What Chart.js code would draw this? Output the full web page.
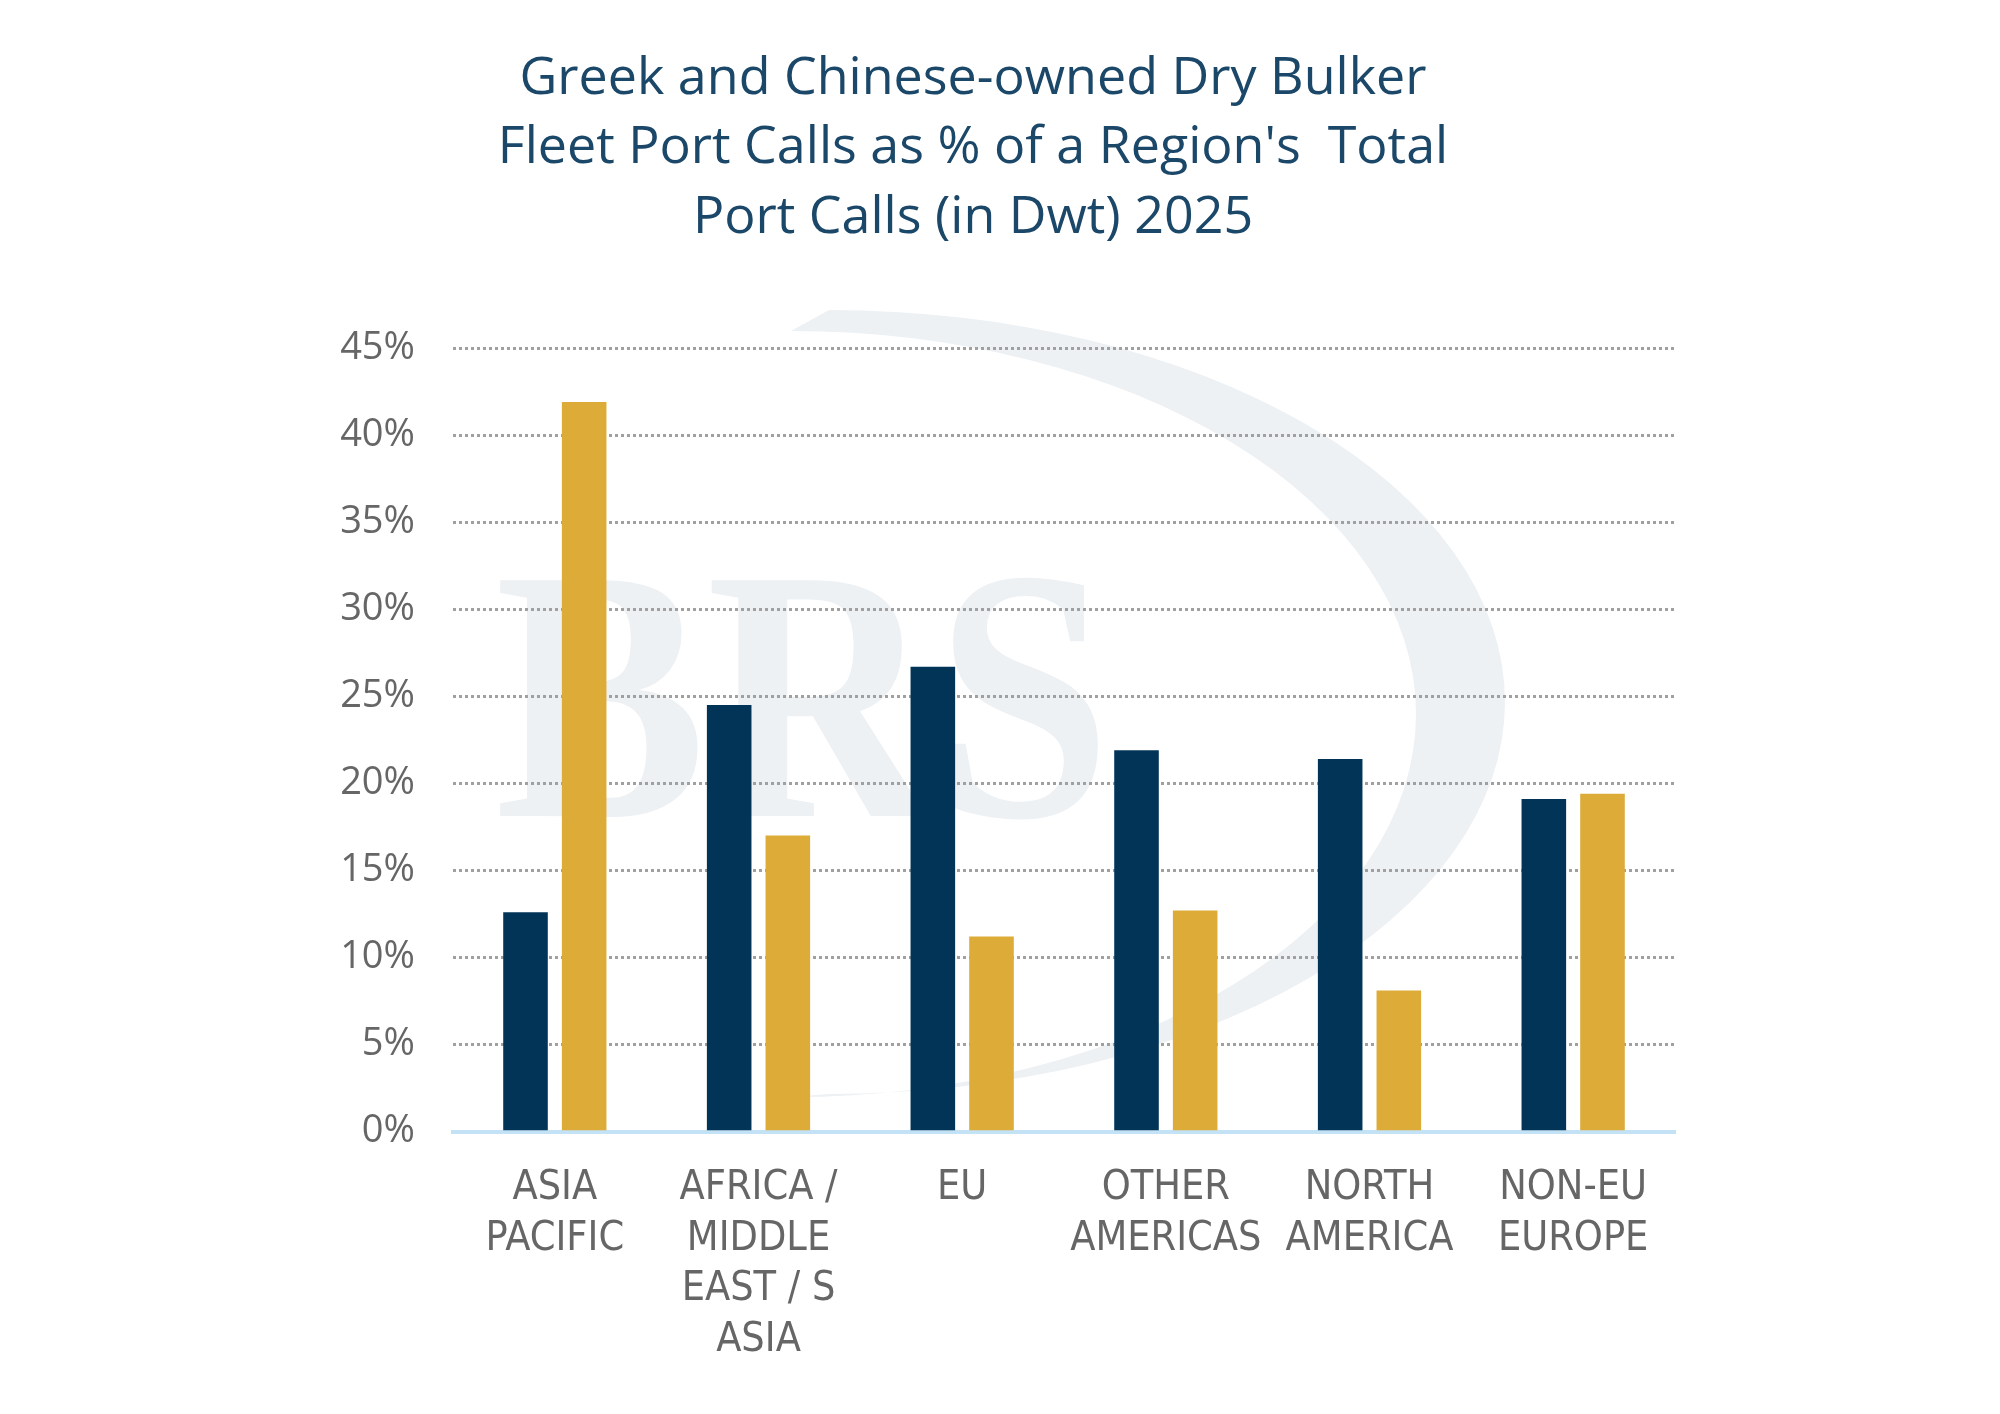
<!DOCTYPE html>
<html>
<head>
<meta charset="utf-8">
<script src="https://cdn.jsdelivr.net/npm/chart.js@4.4.1/dist/chart.umd.min.js"></script>
<style>
  html, body { margin: 0; padding: 0; background: #fff; }
  #wrap { width: 2000px; height: 1414px; }
</style>
</head>
<body>
<div id="wrap"><canvas id="portCalls"></canvas></div>
<script>
// regions (multi-line labels as drawn under the axis)
const regions = [
    ['ASIA', 'PACIFIC'],
    ['AFRICA /', 'MIDDLE', 'EAST / S', 'ASIA'],
    ['EU'],
    ['OTHER', 'AMERICAS'],
    ['NORTH', 'AMERICA'],
    ['NON-EU', 'EUROPE']
];
// % of region's total port calls (dwt), 2025
const greekShare = [12.6, 24.5, 26.7, 21.9, 21.4, 19.1];
const chineseShare = [41.9, 17.0, 11.2, 12.7, 8.1, 19.4];
const yMax = 45;
const yStep = 5;
const titleLines = [
    'Greek and Chinese-owned Dry Bulker',
    "Fleet Port Calls as % of a Region's  Total",
    'Port Calls (in Dwt) 2025'
];

// faint BRS logo behind the plot
const watermark = {
    id: 'watermark',
    beforeDraw(chart) {
        const { ctx } = chart;
        ctx.save();
        ctx.fillStyle = '#edf1f4';
        // swoosh
        ctx.beginPath();
        ctx.ellipse(829, 702, 676, 392, 0, -Math.PI / 2, Math.PI / 2, false);
        ctx.ellipse(791, 714, 625, 383, 0, Math.PI / 2, -Math.PI / 2, true);
        ctx.closePath();
        ctx.fill();
        // letters
        ctx.translate(495, 816);
        ctx.scale(0.88, 1);
        ctx.font = 'bold 360px "Liberation Serif", serif';
        ctx.textBaseline = 'alphabetic';
        ctx.fillText('BRS', 0, 0);
        ctx.restore();
    }
};

new Chart(document.getElementById('portCalls'), {
    type: 'bar',
    data: {
        labels: regions,
        datasets: [
            {
                label: 'Greek-owned',
                data: greekShare,
                backgroundColor: '#023457',
                borderWidth: 0,
                categoryPercentage: 0.576,
                barPercentage: 0.76
            },
            {
                label: 'Chinese-owned',
                data: chineseShare,
                backgroundColor: '#dcab38',
                borderWidth: 0,
                categoryPercentage: 0.576,
                barPercentage: 0.76
            }
        ]
    },
    options: {
        responsive: true,
        maintainAspectRatio: false,
        animation: false,
        layout: { padding: { left: 271, right: 325, top: 0, bottom: 25 } },
        plugins: {
            legend: { display: false },
            tooltip: { enabled: false },
            title: {
                display: true,
                text: titleLines,
                color: '#1b4769',
                font: { family: '"Open Sans", sans-serif', size: 52, weight: 'normal', lineHeight: 1.34 },
                padding: { top: 44, bottom: 95 }
            }
        },
        scales: {
            x: {
                grid: { display: false },
                border: { display: true, color: '#c4e2f5', width: 4 },
                ticks: {
                    color: '#666',
                    padding: 23,
                    maxRotation: 0,
                    autoSkip: false,
                    font: { family: '"Liberation Sans Narrow", "DejaVu Sans Condensed", sans-serif', size: 41, lineHeight: 1.24 }
                }
            },
            y: {
                min: 0,
                max: yMax,
                afterFit: (axis) => { axis.width = 182; },
                grid: {
                    drawTicks: false,
                    lineWidth: 3,
                    color: (c) => (c.tick && c.tick.value === 0 ? 'rgba(0,0,0,0)' : '#a0a0a0')
                },
                border: { display: false, dash: [3, 3] },
                ticks: {
                    stepSize: yStep,
                    padding: 38,
                    color: '#666',
                    font: { family: '"Open Sans", sans-serif', size: 38 },
                    callback: (v) => v + '%'
                }
            }
        }
    },
    plugins: [watermark]
});
</script>
</body>
</html>
